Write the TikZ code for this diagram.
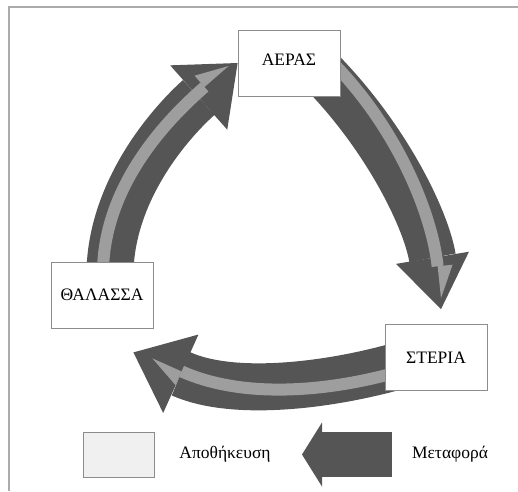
\documentclass[tikz,border=0pt]{standalone}
\usepackage{fontspec}
\setmainfont{Liberation Serif}
\usepackage{tikz}
\usetikzlibrary{arrows.meta, backgrounds}

\definecolor{cycledark}{HTML}{555555}
\definecolor{cyclelight}{HTML}{9E9E9E}
\definecolor{framegray}{HTML}{ABABAB}

\begin{document}
\begin{tikzpicture}[x=1pt,y=-1pt]
\useasboundingbox (0,0) rectangle (518,491);
\tikzset{
  place/.style={draw=black!45, line width=0.8pt, fill=white,
    minimum width=102pt, minimum height=66pt, font=\fontsize{17.5}{21}\selectfont},
  flow/.style={cycledark, line width=47pt,
    -{Triangle[width=#1 0 0, length=52pt 0 0, line width=0pt 0 0]}},
  flow/.default=86pt,
  streak/.style={cyclelight, line width=12pt,
    -{Triangle[harpoon, width=30pt 0 0, length=32pt 0 0, line width=0pt 0 0]}},
  legtext/.style={anchor=base, font=\fontsize{17.5}{21}\selectfont},
}
% page frame
\draw[framegray, line width=2pt] (9,491) -- (9,7) -- (518,7);
% the three places
\node[place, text depth=7pt] (aeras) at (289,63) {ΑΕΡΑΣ};
\node[place] (thalassa) at (102,295) {ΘΑΛΑΣΣΑ};
\node[place] (steria) at (436,357.5) {ΣΤΕΡΙΑ};
% the cycle, behind the boxes
\begin{pgfonlayer}{background}
% sea -> air
\draw[flow] ([shift={(8,8)}]thalassa.north) .. controls +(3,-85) and +(-62,55) .. (aeras.west);
\draw[streak] ([shift={(1,8)}]thalassa.north) .. controls +(2,-85) and +(-62,54) .. ([shift={(-9,3)}]aeras.west);
% air -> land
\draw[flow=74pt] ([shift={(-20,-26)}]aeras.south east) .. controls +(66,67) and +(-15,-90) .. ([shift={(5,-15)}]steria.north);
\draw[streak] ([shift={(-10,-36)}]aeras.south east) .. controls +(66,66) and +(-9,-85) .. ([shift={(5,-26)}]steria.north);
% land -> sea
\draw[flow] ([shift={(15,8)}]steria.west) .. controls +(-70,20) and +(100,45) .. ([shift={(-20,24)}]thalassa.south east);
\draw[streak] ([shift={(15,14)}]steria.west) .. controls +(-70,20) and +(92,41) .. ([shift={(-1,30)}]thalassa.south east);
\end{pgfonlayer}
% legend
\node[draw=black!45, line width=0.8pt, fill=black!6, minimum width=71pt, minimum height=45pt] (legstore) at (118.5,454.5) {};
\node[legtext] (legstoretext) at (225,458) {Αποθήκευση};
\coordinate (legfrom) at (392,454.5);
\coordinate (legto) at (302,454.5);
\draw[cycledark, line width=45pt, -{Triangle[width=64pt 0 0, length=20pt 0 0, line width=0pt 0 0]}] (legfrom) -- (legto);
\node[legtext] (legmovetext) at (450,458) {Μεταφορά};
\end{tikzpicture}
\end{document}
